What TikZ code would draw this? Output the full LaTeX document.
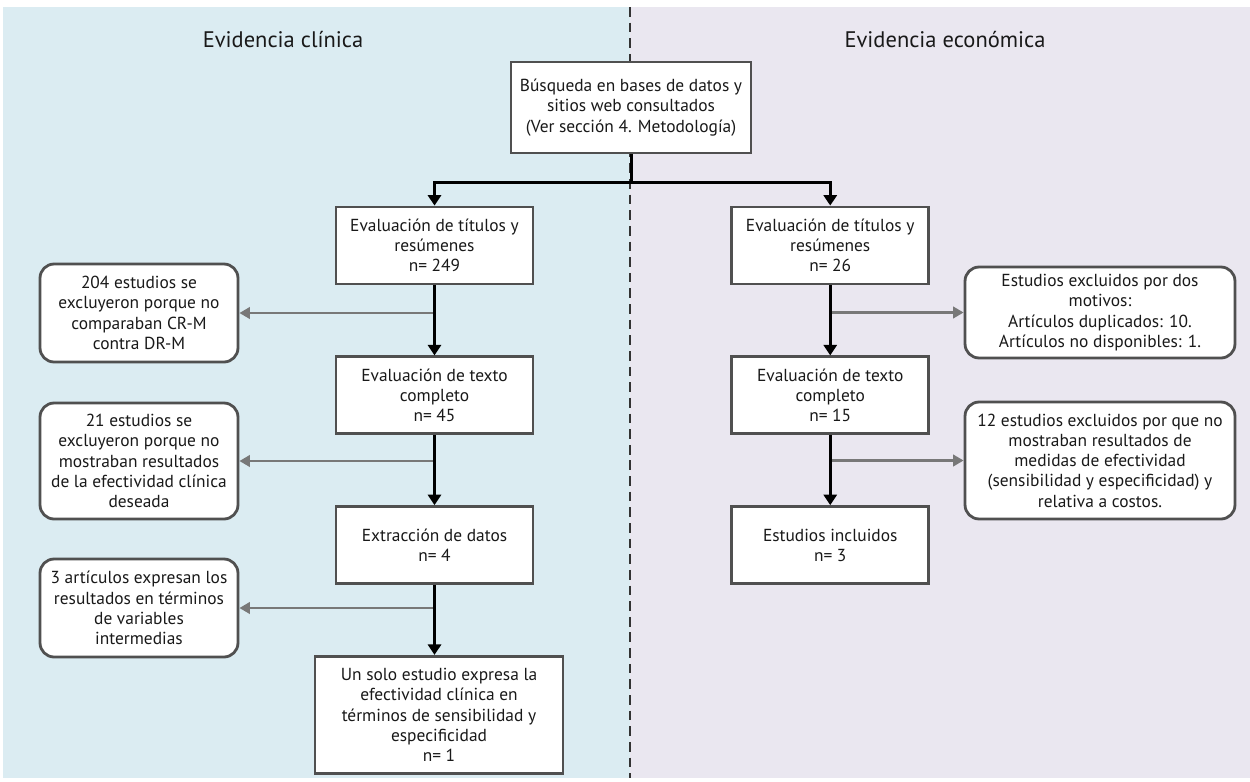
\documentclass[tikz,border=0pt]{standalone}
\usepackage{fontspec}
\setmainfont{PT Sans}
\usepackage{xcolor}
\usepackage{tikz}
\usetikzlibrary{arrows.meta, positioning}
\definecolor{clinicablue}{RGB}{219, 236, 242}
\definecolor{economialila}{RGB}{234, 231, 240}
\definecolor{boxgray}{RGB}{80, 80, 80}
\definecolor{skipgray}{RGB}{120, 120, 120}

\begin{document}
\begin{tikzpicture}[x=0.02cm, y=-0.02cm, font=\fontsize{9.9}{11.5}\selectfont]
    % Styles
    \tikzstyle{block} = [rectangle, draw=boxgray, line width=1.6pt, fill=white, align=center, text=black!90, minimum width=3.94cm, minimum height=1.54cm, inner sep=2pt]
    \tikzstyle{exclbox} = [block, rounded corners=8pt, minimum width=3.96cm]
    \tikzstyle{arrow} = [line width=1.7pt, -{Triangle[length=6pt, width=7.5pt]}, black]
    \tikzstyle{skiparrow} = [line width=1.5pt, -{Triangle[length=6pt, width=6.5pt]}, skipgray]
    \tikzstyle{paneltitle} = [font=\fontsize{12.8}{15}\selectfont, text=black!90]

    % Background
    \useasboundingbox (0,0) rectangle (1250,781);
    \fill[clinicablue] (3,7) rectangle (630,778);
    \fill[economialila] (630,7) rectangle (1250,778);
    \draw[black!80, line width=1pt, dash pattern=on 5.5pt off 3.4pt] (630,7) -- (630,778);

    % Nodes
    \node[paneltitle] (tclin) at (283,40) {Evidencia clínica};
    \node[paneltitle] (tecon) at (945,40) {Evidencia económica};
    \node[block, minimum width=4.8cm, minimum height=1.82cm] (top) at (631,107.5) {Búsqueda en bases de datos y\\sitios web consultados\\(Ver sección 4. Metodología)};
    \node[block] (l1) at (434.5,245.5) {Evaluación de títulos y\\resúmenes\\n= 249};
    \node[block, below=1.4cm of l1] (l2) {Evaluación de texto\\completo\\n= 45};
    \node[block, below=1.4cm of l2] (l3) {Extracción de datos\\n= 4};
    \node[block, below=1.4cm of l3, xshift=0.09cm, minimum width=4.96cm, minimum height=2.34cm] (l4) {Un solo estudio expresa la\\efectividad clínica en\\términos de sensibilidad y\\especificidad\\n= 1};
    \node[block, right=3.92cm of l1] (r1) {Evaluación de títulos y\\resúmenes\\n= 26};
    \node[block, below=1.4cm of r1] (r2) {Evaluación de texto\\completo\\n= 15};
    \node[block, below=1.4cm of r2] (r3) {Estudios incluidos\\n= 3};
    \node[exclbox, minimum height=1.96cm] (x1) at (139,313) {204 estudios se\\excluyeron porque no\\comparaban CR-M\\contra DR-M};
    \node[exclbox, minimum height=2.32cm] (x2) at (139,461) {21 estudios se\\excluyeron porque no\\mostraban resultados\\de la efectividad clínica\\deseada};
    \node[exclbox, minimum height=1.96cm] (x3) at (139,608) {3 artículos expresan los\\resultados en términos\\de variables\\intermedias};
    \node[exclbox, minimum width=5.4cm, minimum height=1.82cm] (e1) at (1100,312.5) {Estudios excluidos por dos\\motivos:\\Artículos duplicados: 10.\\Artículos no disponibles: 1.};
    \node[exclbox, minimum width=5.4cm, minimum height=2.34cm] (e2) at (1100,460.5) {12 estudios excluidos por que no\\mostraban resultados de\\medidas de efectividad\\(sensibilidad y especificidad) y\\relativa a costos.};

    % Arrows
    \draw[skiparrow] (l1.south |- x1.east) -- (x1.east);
    \draw[skiparrow] (l2.south |- x2.east) -- (x2.east);
    \draw[skiparrow] (l3.south |- x3.east) -- (x3.east);
    \draw[skiparrow] (r1.south |- e1.west) -- (e1.west);
    \draw[skiparrow] (r2.south |- e2.west) -- (e2.west);
    \draw[arrow] (top.south) -- ++(0,28) coordinate (split) -| (l1.north);
    \draw[arrow] (split) -| (r1.north);
    \draw[arrow] (l1) -- (l2);
    \draw[arrow] (l2) -- (l3);
    \draw[arrow] (l3.south) -- (l3.south |- l4.north);
    \draw[arrow] (r1) -- (r2);
    \draw[arrow] (r2) -- (r3);
\end{tikzpicture}
\end{document}
